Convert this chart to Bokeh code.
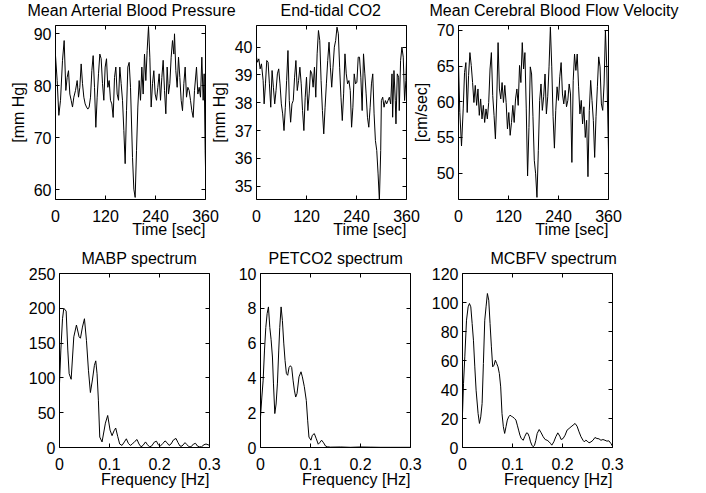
from bokeh.plotting import figure
from bokeh.models import Range1d, LinearAxis, FixedTicker, Title, NumeralTickFormatter
from bokeh.layouts import column, row
from bokeh.embed import file_html
from bokeh.resources import INLINE

# ---------------- data ----------------
time_ticks = [0, 120, 240, 360]
freq_ticks = [0, 0.1, 0.2, 0.3]

mabp_t = [0, 4, 8, 12, 16.8, 20.8, 24.8, 28, 31.2, 34.4, 37.6, 40.8, 44, 48, 52, 55.2, 58.4,
          61.6, 64.8, 68, 71.2, 74.4, 77.6, 80.8, 84, 87.2, 90.4, 93.6, 96.8, 100, 103.2,
          106.4, 109.6, 112.8, 116, 119.2, 122.4, 125.6, 128.8, 132, 135.2, 138.4, 141.6,
          144.8, 148, 151.2, 154.4, 157.6, 160.8, 164, 167.2, 170.4, 173.6, 176.8, 180,
          184.8, 188, 191.2, 194.4, 197.6, 200.8, 204, 207.2, 210.4, 213.6, 216.8, 220,
          223.2, 226.4, 229.6, 232.8, 236, 239.2, 242.4, 245.6, 248.8, 252, 255.2, 258.4,
          261.6, 264.8, 268, 271.2, 274.4, 277.6, 280.8, 284, 285.6, 288.8, 292, 295.2,
          298.4, 301.6, 304.8, 308, 311.2, 314.4, 317.6, 320.8, 324, 327.2, 330.4, 333.6,
          338.4, 341.6, 344.8, 348, 351.2, 354.4, 356.8, 359.2, 360]
mabp_v = [85.8, 81.0, 74.3, 77.2, 84.9, 88.7, 79.1, 81.6, 82.9, 78.4, 77.2, 75.9, 77.8, 79.1,
          81.0, 77.8, 79.7, 84.2, 80.4, 77.8, 76.5, 75.9, 75.5, 75.9, 77.8, 82.9, 85.8, 79.7,
          72.0, 77.8, 82.3, 86.1, 85.2, 80.4, 77.2, 83.6, 85.2, 79.7, 81.0, 77.2, 76.5, 73.9,
          81.6, 83.6, 78.4, 77.2, 83.6, 80.4, 77.2, 71.4, 65.0, 75.2, 83.6, 84.5, 79.7, 66.2,
          60.1, 58.5, 67.5, 75.9, 81.0, 77.2, 83.6, 78.4, 86.1, 81.0, 86.8, 91.4, 85.5, 75.9,
          80.4, 82.9, 78.4, 77.2, 79.7, 82.3, 77.2, 81.6, 84.9, 79.1, 74.6, 83.6, 78.4, 80.4,
          85.5, 88.7, 86.1, 90.0, 82.9, 79.7, 85.5, 81.6, 77.2, 75.2, 80.4, 83.6, 77.8, 79.7,
          79.1, 77.2, 75.2, 73.9, 79.1, 83.6, 78.4, 79.7, 77.8, 85.5, 77.2, 82.3, 67.5, 64.3]

co2_t = [0, 2.4, 5.6, 8.7, 11.9, 15.9, 18.3, 21.5, 24.6, 27.8, 31.0, 34.2, 37.4, 40.5, 43.7,
         46.9, 50.1, 53.3, 56.4, 59.6, 62.8, 66.0, 69.2, 72.3, 75.5, 78.7, 81.9, 85.1, 88.2,
         91.4, 94.6, 97.8, 101.0, 104.1, 107.3, 110.5, 113.7, 116.9, 120.0, 123.2, 126.4,
         129.6, 132.8, 135.9, 139.1, 142.3, 145.5, 148.7, 151.8, 155.0, 158.2, 161.4, 164.6,
         167.7, 170.9, 174.1, 177.3, 180.5, 183.6, 186.8, 190.0, 193.2, 196.4, 199.5, 202.7,
         205.9, 209.1, 212.3, 215.4, 218.6, 221.8, 225.0, 228.2, 231.3, 234.5, 237.7, 240.9,
         244.1, 247.2, 250.4, 253.6, 256.8, 260.0, 263.1, 266.3, 269.5, 272.7, 275.9, 279.0,
         282.2, 285.4, 288.6, 291.8, 294.9, 298.1, 299.7, 302.9, 306.1, 309.3, 312.4, 315.6,
         318.8, 322.0, 325.2, 326.7, 329.9, 333.1, 334.7, 337.9, 341.1, 342.6, 345.8, 349.0,
         352.2, 355.4, 358.5, 360]
co2_v = [39.64, 39.46, 39.58, 39.22, 39.4, 38.8, 37.96, 38.68, 39.52, 39.46, 38.68, 37.84,
         39.16, 38.56, 37.96, 38.44, 39.04, 39.22, 38.68, 37.96, 37.6, 37.0, 37.84, 38.8,
         39.88, 38.08, 37.3, 37.96, 38.08, 38.92, 39.52, 38.44, 38.8, 39.28, 38.68, 37.72,
         37.0, 38.2, 38.92, 37.72, 38.32, 39.16, 39.04, 38.56, 39.28, 38.2, 39.76, 40.6,
         40.24, 38.8, 37.72, 36.88, 37.84, 38.68, 39.52, 40.18, 39.28, 38.56, 39.28, 40.0,
         40.24, 40.72, 40.48, 39.28, 38.2, 37.36, 38.32, 39.76, 39.04, 38.68, 38.8, 38.44,
         37.12, 37.84, 39.04, 38.68, 38.74, 39.64, 39.64, 38.92, 37.72, 39.76, 39.04, 38.32,
         37.48, 37.12, 37.84, 38.68, 39.04, 37.6, 36.64, 36.28, 35.44, 34.48, 36.28, 38.08,
         38.2, 37.84, 38.08, 37.96, 38.08, 38.2, 37.96, 39.04, 37.48, 39.16, 38.08, 37.24,
         39.04, 38.92, 37.72, 39.52, 40.0, 39.64, 38.08, 38.8, 39.52]

cbfv_t = [0, 3.2, 7.2, 11.3, 14.5, 17.7, 20.9, 24.2, 27.4, 30.6, 33.8, 37.0, 40.2, 43.5,
          46.7, 49.9, 53.1, 56.4, 59.6, 62.8, 66.0, 69.2, 72.5, 75.7, 78.9, 82.1, 85.3,
          88.6, 91.8, 95.0, 98.2, 101.4, 104.6, 107.9, 111.1, 114.3, 117.5, 120.7, 124.0,
          127.2, 130.4, 133.6, 136.9, 140.1, 143.3, 146.5, 149.7, 153.0, 156.2, 159.4,
          162.6, 165.8, 169.1, 172.3, 175.4, 178.7, 181.9, 185.1, 188.3, 191.6, 194.8,
          198.0, 201.2, 204.4, 207.7, 210.9, 214.1, 217.3, 220.5, 223.8, 227.0, 230.2,
          233.4, 236.6, 239.9, 243.1, 246.3, 249.5, 252.7, 256.0, 259.2, 262.4, 265.6,
          268.8, 272.1, 275.3, 278.5, 281.7, 284.9, 288.2, 291.4, 294.6, 297.8, 301.0,
          304.3, 307.5, 310.7, 313.9, 317.2, 320.4, 323.6, 326.8, 330.0, 333.3, 336.5,
          339.7, 342.9, 346.1, 349.4, 352.6, 355.8, 360]
cbfv_v = [65.3, 58.5, 53.8, 59.0, 64.1, 65.5, 58.5, 63.7, 66.9, 65.1, 62.7, 59.9, 62.3,
          59.5, 61.8, 58.1, 60.4, 57.6, 59.5, 57.1, 59.0, 57.6, 59.9, 64.6, 66.9, 60.9,
          58.1, 54.8, 60.4, 68.3, 61.8, 60.4, 62.7, 59.9, 62.3, 59.9, 56.2, 58.5, 55.3,
          57.1, 59.5, 57.1, 60.4, 61.8, 59.5, 65.1, 62.7, 68.3, 64.6, 66.9, 59.0, 49.6,
          56.4, 64.9, 63.9, 57.9, 51.8, 49.9, 46.6, 53.2, 60.2, 62.5, 58.8, 60.7, 63.9,
          58.3, 60.7, 64.9, 70.5, 64.9, 57.9, 53.5, 58.8, 62.1, 60.2, 63.5, 65.5, 61.1,
          59.7, 61.6, 59.3, 60.2, 62.5, 61.1, 51.5, 63.0, 66.7, 64.4, 66.7, 62.1, 58.3,
          60.2, 56.9, 59.3, 55.0, 57.4, 49.5, 58.8, 63.0, 60.2, 57.4, 52.2, 57.9, 62.1,
          66.3, 64.9, 59.7, 58.8, 62.5, 70.0, 64.9, 53.0]

mabp_f = [0, 0.0027, 0.006, 0.0086, 0.0133, 0.0166, 0.0193, 0.0233, 0.0286, 0.0339, 0.0392,
          0.0419, 0.0459, 0.0499, 0.0539, 0.0579, 0.0618, 0.0658, 0.0698, 0.0725, 0.0751,
          0.0778, 0.0805, 0.0851, 0.0918, 0.0964, 0.1011, 0.1051, 0.1091, 0.1124, 0.1164,
          0.1204, 0.125, 0.1297, 0.1337, 0.1377, 0.1416, 0.1456, 0.151, 0.155, 0.159, 0.163,
          0.167, 0.172, 0.176, 0.18, 0.184, 0.19, 0.194, 0.1975, 0.2015, 0.207, 0.211, 0.215,
          0.219, 0.223, 0.228, 0.233, 0.237, 0.241, 0.245, 0.251, 0.255, 0.259, 0.263, 0.268,
          0.272, 0.276, 0.28, 0.284, 0.289, 0.293, 0.297, 0.3]
mabp_p = [92, 140, 185, 200, 196, 140, 106, 98, 159, 176, 159, 157, 173, 185, 154, 111, 79,
          97, 118, 124.5, 106, 68, 15, 8, 35, 46, 25, 17, 24, 28, 16, 5, 3, 8, 12.5, 6, 3, 5,
          9, 11.5, 5, 1, 3, 8, 4, 1, 2, 8, 9, 4, 2, 6, 9.5, 7, 3, 5, 11, 13, 7, 2, 2, 7, 4,
          1, 1, 5, 6, 2, 1, 1, 4, 5, 4, 3]

co2_f = [0, 0.0027, 0.0053, 0.008, 0.0106, 0.0133, 0.0159, 0.0186, 0.0212, 0.0239, 0.0259,
         0.0286, 0.0312, 0.0339, 0.0365, 0.0385, 0.0412, 0.0438, 0.0465, 0.0491, 0.0518,
         0.0544, 0.0571, 0.0598, 0.0624, 0.0651, 0.0677, 0.0704, 0.073, 0.077, 0.081,
         0.0837, 0.0876, 0.0916, 0.0943, 0.0969, 0.1009, 0.1036, 0.1076, 0.1116, 0.1155,
         0.1182, 0.1222, 0.1262, 0.1301, 0.1341, 0.14, 0.16, 0.18, 0.2, 0.22, 0.24, 0.26,
         0.28, 0.3]
co2_p = [1.76, 2.9, 3.87, 5.6, 6.9, 7.7, 8.08, 6.9, 6.2, 5.2, 3.7, 1.95, 2.5, 3.7, 5.6, 6.9,
         8.08, 7.3, 6.0, 5.0, 4.25, 4.15, 4.6, 4.7, 4.6, 3.87, 3.3, 2.9, 3.1, 4.06, 4.35,
         4.06, 3.5, 2.7, 1.57, 0.6, 0.42, 0.7, 0.8, 0.5, 0.19, 0.27, 0.42, 0.27, 0.08, 0.04,
         0.02, 0.03, 0.01, 0.03, 0.02, 0.01, 0.01, 0.01, 0.01]

cbfv_f = [0, 0.002, 0.0046, 0.008, 0.0113, 0.0139, 0.0166, 0.0193, 0.0219, 0.0246, 0.0272,
          0.0312, 0.0339, 0.0365, 0.0392, 0.0418, 0.0445, 0.0471, 0.0498, 0.0525, 0.0551,
          0.0578, 0.0604, 0.0631, 0.0657, 0.0684, 0.071, 0.0737, 0.0764, 0.079, 0.0817,
          0.0843, 0.087, 0.0896, 0.0923, 0.095, 0.0976, 0.1003, 0.1042, 0.1069, 0.1096,
          0.1122, 0.1149, 0.1175, 0.1215, 0.1242, 0.1282, 0.1308, 0.1335, 0.1361, 0.1388,
          0.1414, 0.1441, 0.1467, 0.1494, 0.1534, 0.1574, 0.1614, 0.1653, 0.1693, 0.1733,
          0.176, 0.1786, 0.1826, 0.1866, 0.1906, 0.1946, 0.1972, 0.2012, 0.2052, 0.2092,
          0.2131, 0.2171, 0.2211, 0.2251, 0.2291, 0.2331, 0.237, 0.241, 0.2437, 0.2463,
          0.249, 0.253, 0.257, 0.261, 0.2649, 0.2689, 0.2729, 0.2769, 0.2809, 0.2849,
          0.2888, 0.2928, 0.2968, 0.3]
cbfv_p = [23.4, 44, 62.5, 87.8, 97, 99.3, 97, 85.5, 74, 55.6, 39.5, 23.4, 16.6, 21.1, 30.3,
          57.9, 87.8, 97, 106.2, 101.6, 85.5, 69.4, 55.6, 56.8, 60.2, 57.9, 55.6, 51, 41.8,
          23.4, 14.3, 9.7, 14.3, 18.9, 21.1, 22.3, 21.6, 21.1, 20, 18.9, 15.4, 12, 8.5, 6.2,
          5, 7.4, 10.1, 9.7, 7.4, 3.9, 1.6, 0.5, 1.6, 5, 9.7, 12.4, 10.1, 7.4, 5.5, 5, 3.9,
          2.8, 1.6, 3.9, 7.4, 10.1, 7.8, 5.5, 6.2, 8.5, 12, 13.1, 14.3, 15.4, 16.6, 14.7,
          10.8, 7.4, 5, 3.9, 5, 4.6, 3.2, 3.9, 5, 6.9, 6.2, 6, 5, 5.5, 5, 4.4, 4.6, 2.8, 0.9]

titles = ["Mean Arterial Blood Pressure", "End-tidal CO2", "Mean Cerebral Blood Flow Velocity",
          "MABP spectrum", "PETCO2 spectrum", "MCBFV spectrum"]

# ---------------- layout / style ----------------
FONT = "Liberation Sans"
FS = "16px"
BL, BR, BT, BB = 60, 82, 35, 46      # uniform borders of every panel
FRW, FRH = 150, 174                  # frame size
FW, FH = BL + FRW + BR, BT + FRH + BB


def make_axis(ticks, show_labels, fmt=None):
    ax = LinearAxis(ticker=FixedTicker(ticks=ticks, minor_ticks=[]))
    ax.major_tick_in = 4
    ax.major_tick_out = 0
    ax.minor_tick_line_color = None
    ax.axis_line_color = None
    ax.major_tick_line_color = "black"
    ax.major_tick_line_width = 1
    if show_labels:
        ax.major_label_text_font = FONT
        ax.major_label_text_font_size = FS
        ax.major_label_text_color = "black"
        ax.axis_label_text_font = FONT
        ax.axis_label_text_font_size = FS
        ax.axis_label_text_font_style = "normal"
        ax.axis_label_text_color = "black"
    else:
        ax.major_label_text_font_size = "0px"
        ax.major_label_text_color = None
        ax.major_label_standoff = 0
    if fmt is not None:
        ax.formatter = fmt
    return ax


def text_title(text, align, offset, standoff, valign):
    return Title(text=text, align=align, offset=offset, standoff=standoff,
                 vertical_align=valign, text_font=FONT, text_font_size=FS,
                 text_font_style="normal", text_color="black")


def panel(x, y, xr, yr, xticks, yticks, title, title_dx, xlabel, xlabel_so,
          ylabel=None, xfmt=None):
    p = figure(width=FW, height=FH, output_backend="svg", toolbar_location=None,
               x_range=Range1d(*xr), y_range=Range1d(*yr),
               x_axis_type=None, y_axis_type=None,
               min_border_left=BL, min_border_right=BR,
               min_border_top=BT, min_border_bottom=BB)
    p.border_fill_color = None
    p.background_fill_color = None
    p.outline_line_color = "black"
    p.outline_line_width = 1

    bx = make_axis(xticks, True, xfmt)
    bx.major_label_standoff = 10
    p.add_layout(bx, "below")
    ly = make_axis(yticks, True)
    ly.major_label_standoff = 4
    ly.axis_label_standoff = 4
    if ylabel:
        ly.axis_label = ylabel
    p.add_layout(ly, "left")
    p.add_layout(make_axis(xticks, False), "above")
    p.add_layout(make_axis(yticks, False), "right")

    p.line(x, y, line_color="black", line_width=1)

    p.add_layout(text_title(title, "left", title_dx, 13, "bottom"), "above")
    p.add_layout(text_title(xlabel, "right", 0, xlabel_so, "top"), "below")
    return p


ffmt = NumeralTickFormatter(format="0.[0]")

f1 = panel(mabp_t, mabp_v, (0, 360), (58.1, 91.6), time_ticks, [60, 70, 80, 90],
           titles[0], -28, "Time [sec]", -8, "[mm Hg]")
f2 = panel(co2_t, co2_v, (0, 360), (34.52, 40.78), time_ticks, [35, 36, 37, 38, 39, 40],
           titles[1], 24, "Time [sec]", -8, "[mm Hg]")
f3 = panel(cbfv_t, cbfv_v, (0, 360), (46.3, 70.7), time_ticks, [50, 55, 60, 65, 70],
           titles[2], -29, "Time [sec]", -8, "[cm/sec]")
f4 = panel(mabp_f, mabp_p, (0, 0.3), (0, 250), freq_ticks, [0, 50, 100, 150, 200, 250],
           titles[3], 22, "Frequency [Hz]", -4, None, ffmt)
f5 = panel(co2_f, co2_p, (0, 0.3), (0, 10), freq_ticks, [0, 2, 4, 6, 8, 10],
           titles[4], 8, "Frequency [Hz]", -4, None, ffmt)
f6 = panel(cbfv_f, cbfv_p, (0, 0.3), (0, 120), freq_ticks, [0, 20, 40, 60, 80, 100, 120],
           titles[5], 28, "Frequency [Hz]", -4, None, ffmt)

# place the canvases (they overlap; their borders are transparent)
top_frame_left = [55, 256, 458]
bot_frame_left = [59, 260, 462]
TOP_FRAME_Y, BOT_FRAME_Y = 25, 273


def place(figs, lefts, top):
    prev_right = 0
    for f, fl in zip(figs, lefts):
        cx = fl - BL
        f.margin = (top, 0, 0, cx - prev_right)
        prev_right = cx + FW


place([f1, f2, f3], top_frame_left, TOP_FRAME_Y - BT)
place([f4, f5, f6], bot_frame_left, BOT_FRAME_Y - BT - (TOP_FRAME_Y - BT + FH))

layout = column(row(f1, f2, f3, spacing=0), row(f4, f5, f6, spacing=0), spacing=0)

open("out.html", "w").write(file_html(layout, INLINE))
